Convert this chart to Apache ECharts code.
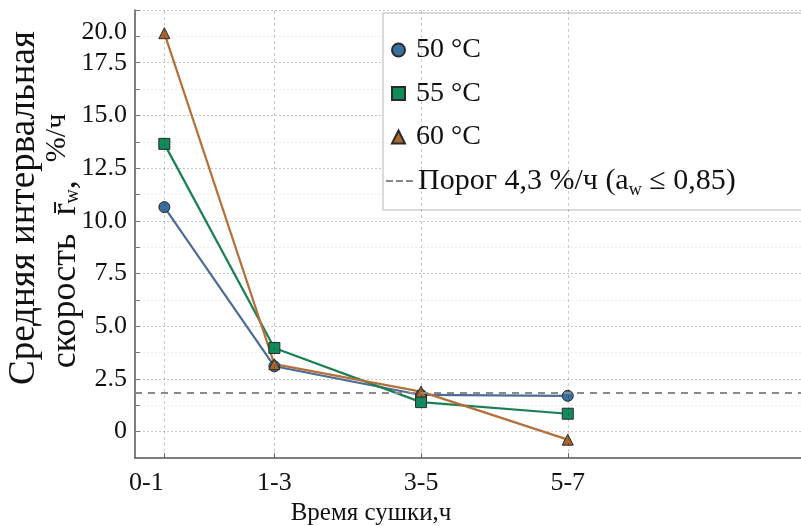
<!DOCTYPE html>
<html><head><meta charset="utf-8">
<script src="https://cdn.jsdelivr.net/npm/echarts@6/dist/echarts.min.js"></script>
<style>html,body{margin:0;padding:0;background:#fff}#c{width:801px;height:526px}</style>
</head><body><div id="c"></div>
<script>
const categories = ['0-1', '1-3', '3-5', '5-7'];
const xMid = [0.5, 2, 4, 6];
const s50 = [10.65, 3.1, 1.74, 1.7];
const s55 = [13.65, 3.97, 1.4, 0.85];
const s60 = [18.9, 3.2, 1.9, -0.38];
const thresholdValue = 1.83;
const names = ['50 °C', '55 °C', '60 °C'];
const thrName = 'Порог 4,3 %/ч (a{sub|w} ≤ 0,85)';

const FONT = 'Liberation Serif';
const chart = echarts.init(document.getElementById('c'), null, {renderer: 'canvas'});

function pts(vals) { return vals.map((v, i) => [xMid[i], v]); }
function lineSeries(name, vals, color, fill, symbol, size) {
  return {
    name, type: 'line', data: pts(vals), symbol, symbolSize: size,
    lineStyle: {color, width: 2.2},
    itemStyle: {color: fill, borderColor: '#2a2a2a', borderWidth: 1},
    z: 3, clip: false
  };
}

chart.setOption({
  animation: false,
  backgroundColor: '#fff',
  grid: {left: 135, right: 0, top: 10, bottom: 68, containLabel: false, outerBoundsMode: 'none'},
  xAxis: {
    type: 'value', min: 0.1, max: 9.18,
    axisLine: {onZero: false, lineStyle: {color: '#555', width: 1.5}},
    axisTick: {inside: true, length: 5, lineStyle: {color: '#777'}, customValues: xMid},
    splitLine: {show: false},
    axisLabel: {
      customValues: xMid, margin: 12,
      formatter: v => { const i = xMid.indexOf(v); if (i < 0) return ''; return i === 0 ? '{f|' + categories[i] + '}' : categories[i]; },
      fontFamily: FONT, fontSize: 26, color: '#111',
      rich: {f: {fontFamily: FONT, fontSize: 26, color: '#111', padding: [0, 36, 0, 0]}}
    },
    name: 'Время сушки,ч', nameLocation: 'middle', nameGap: 40,
    nameTextStyle: {fontFamily: FONT, fontSize: 25, color: '#111', padding: [0, 0, 0, -194]}
  },
  yAxis: {
    type: 'value', min: -1.25, max: 20, interval: 1.25,
    axisLine: {show: true, onZero: false, lineStyle: {color: '#555', width: 1.5}},
    axisTick: {show: true, inside: true, length: 5, lineStyle: {color: '#777'}},
    splitLine: {show: true, lineStyle: {type: [2, 2], width: 1, color: ['rgba(0,0,0,0.07)', 'rgba(0,0,0,0.22)']}},
    axisLabel: {
      margin: 8, fontFamily: FONT, fontSize: 26, color: '#111',
      formatter: v => {
        if (Math.abs(v / 2.5 - Math.round(v / 2.5)) > 1e-6 || v < 0) return '';
        if (v === 0) return '0';
        if (v >= 20) return '{t|' + v.toFixed(1) + '}';
        return v.toFixed(1);
      },
      rich: {t: {fontFamily: FONT, fontSize: 26, color: '#111', padding: [44, 0, 0, 0]}}
    }
  },
  legend: [{
    orient: 'vertical', left: 383, top: 13,
    padding: [22, 400, 58, 8], itemGap: 13.5,
    itemWidth: 13, itemHeight: 13,
    backgroundColor: '#fff', borderColor: '#cfcfcf', borderWidth: 1.5,
    textStyle: {fontFamily: FONT, fontSize: 28, color: '#111', lineHeight: 30, padding: [0, 0, 0, 6]},
    data: [
      {name: names[0], icon: 'circle'},
      {name: names[1], icon: 'rect'},
      {name: names[2], icon: 'triangle'}
    ]
  }, {
    orient: 'vertical', left: 386, top: 166,
    padding: [0, 0, 0, 0],
    itemWidth: 27, itemHeight: 3,
    textStyle: {fontFamily: FONT, fontSize: 30, color: '#111', lineHeight: 30,
      rich: {sub: {fontFamily: FONT, fontSize: 18, color: '#111', padding: [18, 0, 0, 0]}}},
    data: [{name: thrName, icon: 'path://M0,0h7v2h-7z M10,0h7v2h-7z M20,0h7v2h-7z'}]
  }],
  graphic: [
    {type: 'text', x: 24, y: 208, rotation: Math.PI / 2,
      style: {text: 'Средняя интервальная', fontFamily: FONT, fontSize: 37, fill: '#111', align: 'center', verticalAlign: 'middle'}},
    {type: 'text', x: 66, y: 241, rotation: Math.PI / 2,
      style: {text: '{a|скорость  r̄}{s|w}{a|,  }{p|%/ч}', fill: '#111', align: 'center', verticalAlign: 'middle',
        rich: {a: {fontFamily: FONT, fontSize: 36, fill: '#111'}, s: {fontFamily: FONT, fontSize: 20, fill: '#111', padding: [14, 0, 0, 0]},
               p: {fontFamily: FONT, fontSize: 30, fill: '#111', padding: [0, 0, 18, 0]}}}}
  ],
  series: [
    {
      name: thrName, type: 'line', data: [], symbol: 'none',
      lineStyle: {color: '#8a8a8a', width: 2, type: [6, 5]},
      itemStyle: {color: '#8a8a8a'},
      markLine: {
        silent: true, symbol: 'none', label: {show: false},
        lineStyle: {color: '#8a8a8a', width: 2, type: [7, 6]},
        data: [{yAxis: thresholdValue}]
      }
    },
    {
      name: 'grid-x', type: 'line', data: [], symbol: 'none',
      markLine: {
        silent: true, symbol: 'none', label: {show: false},
        lineStyle: {color: 'rgba(0,0,0,0.2)', width: 1, type: [3, 3]},
        data: xMid.map(v => ({xAxis: v}))
      }
    },
    lineSeries(names[0], s50, '#4a6d96', '#3b6fa0', 'circle', 11),
    lineSeries(names[1], s55, '#1a7f52', '#118a5c', 'rect', 11),
    lineSeries(names[2], s60, '#b3703a', '#a8652c', 'triangle', 11)
  ]
});
</script></body></html>
